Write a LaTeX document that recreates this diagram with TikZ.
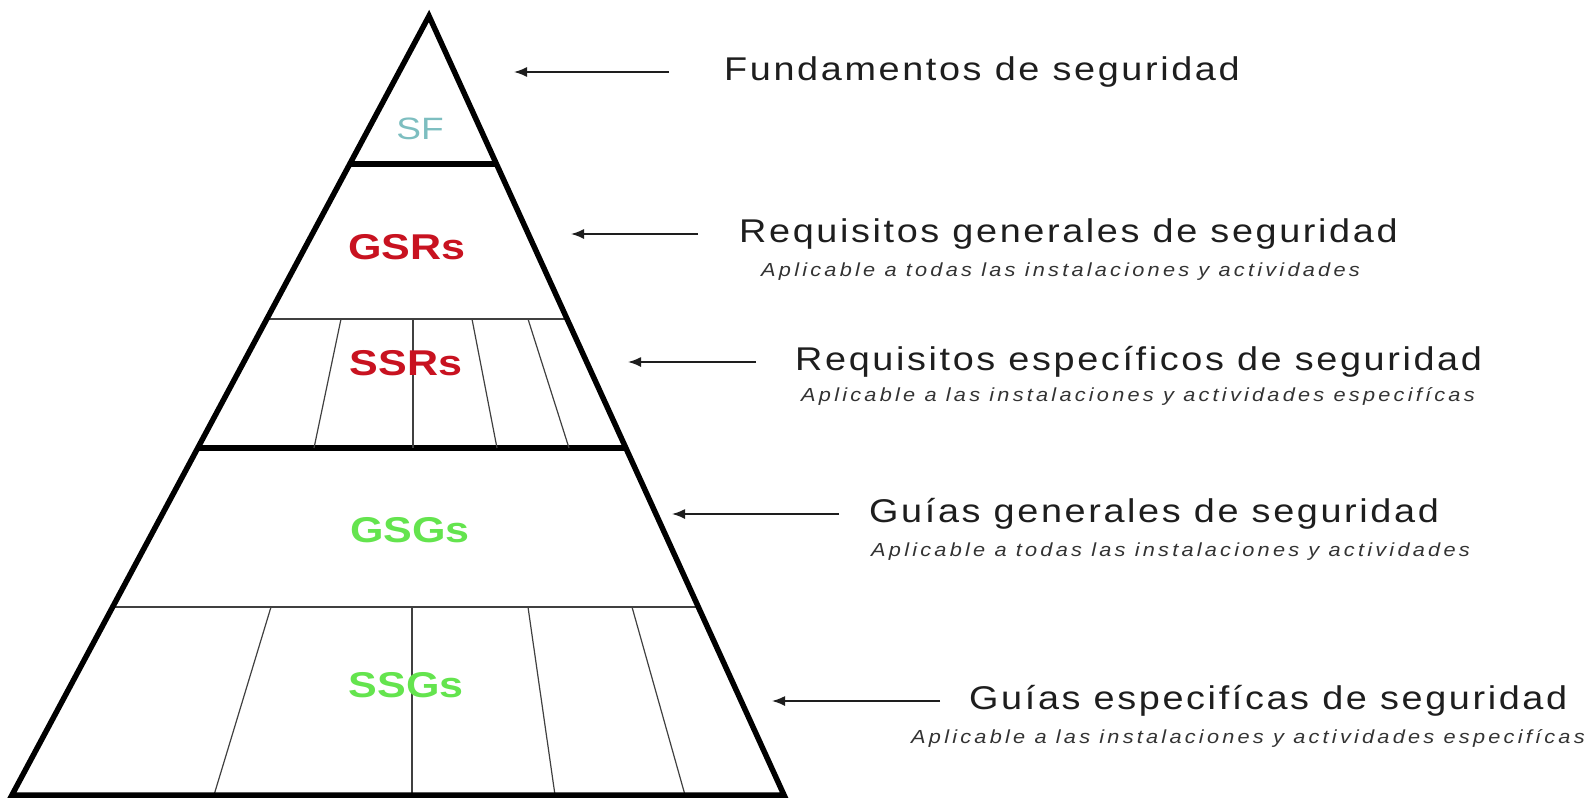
\documentclass[tikz,border=0pt]{standalone}
\usepackage{fontspec}
\setmainfont{Liberation Sans}
\newfontfamily\headfont[FakeStretch=1.15,LetterSpace=8]{Liberation Sans}
\newfontfamily\notefont[FakeStretch=1.15,LetterSpace=17]{Liberation Sans}
\newfontfamily\levelfont[FakeStretch=1.2]{Liberation Sans}
\usetikzlibrary{arrows.meta}

\definecolor{sfteal}{RGB}{125,190,192}
\definecolor{reqred}{RGB}{200,18,32}
\definecolor{guigreen}{RGB}{100,228,78}
\definecolor{ink}{RGB}{30,30,30}

\begin{document}
\begin{tikzpicture}[x=1bp,y=-1bp,
	rim/.style={line width=5.5bp,line join=miter},
	band/.style={line width=5.5bp},
	split/.style={line width=1.2bp,draw=black!75},
	level/.style={inner sep=0pt,font=\levelfont\bfseries\fontsize{36}{40}\selectfont},
	title/.style={anchor=west,inner sep=0pt,text=ink,font=\headfont\fontsize{33}{38}\selectfont},
	note/.style={anchor=west,inner sep=0pt,text=black!80,font=\notefont\itshape\fontsize{19}{22}\selectfont},
	pointer/.style={-{Latex[length=13bp,width=10bp]},line width=1.6bp,draw=ink}]
	\useasboundingbox (0,0) rectangle (1585,797);
		\coordinate (apex) at (429,16);
		\coordinate (bl) at (12,795);
		\coordinate (br) at (784,795);
		% bands and dividers, cut to the pyramid
		\begin{scope}
			\clip (apex) -- (bl) -- (br) -- cycle;
			\foreach \y in {319,607} \draw[split] (0,\y) -- (800,\y);
			\foreach \y in {164,448} \draw[band] (0,\y) -- (800,\y);
			\foreach \xa/\xb in {341/314,413/413,472/497,528/569} \draw[split] (\xa,319) -- (\xb,448);
			\foreach \xa/\xb in {271/214,412/412,528/555,632/685} \draw[split] (\xa,607) -- (\xb,795);
		\end{scope}
		\draw[rim] (apex) -- (bl) -- (br) -- cycle;
		\node[level,text=sfteal,font=\levelfont\fontsize{31}{34}\selectfont] (sf) at (420,129) {SF};
		\node[level,text=reqred] (gsr) at (407,247) {GSRs};
		\node[level,text=reqred] (ssr) at (406,363) {SSRs};
		\node[level,text=guigreen] (gsg) at (410,530) {GSGs};
		\node[level,text=guigreen] (ssg) at (406,685) {SSGs};
		% texts on the right
		\node[title] (t1) at (724,72) {Fundamentos de seguridad};
		\node[title] (t2) at (739,234) {Requisitos generales de seguridad};
		\node[note] (s2) at (761,272) {Aplicable a todas las instalaciones y actividades};
		\node[title] (t3) at (795,362) {Requisitos específicos de seguridad};
		\node[note] (s3) at (801,396) {Aplicable a las instalaciones y actividades especifícas};
		\node[title] (t4) at (869,514) {Guías generales de seguridad};
		\node[note] (s4) at (871,552) {Aplicable a todas las instalaciones y actividades};
		\node[title] (t5) at (969,701) {Guías especifícas de seguridad};
		\node[note] (s5) at (911,738) {Aplicable a las instalaciones y actividades especifícas};
		% arrows
		\coordinate (a1) at (514,71);
		\coordinate (a2) at (571,237);
		\coordinate (a3) at (628,367);
		\coordinate (a4) at (672,512);
		\coordinate (a5) at (772,700);
		\draw[pointer,shorten <=55bp] (t1.west) -- (t1.west -| a1);
		\draw[pointer,shorten <=41bp] (t2.west) -- (t2.west -| a2);
		\draw[pointer,shorten <=39bp] (t3.west) -- (t3.west -| a3);
		\draw[pointer,shorten <=30bp] (t4.west) -- (t4.west -| a4);
		\draw[pointer,shorten <=29bp] (t5.west) -- (t5.west -| a5);
	\end{tikzpicture}
\end{document}
